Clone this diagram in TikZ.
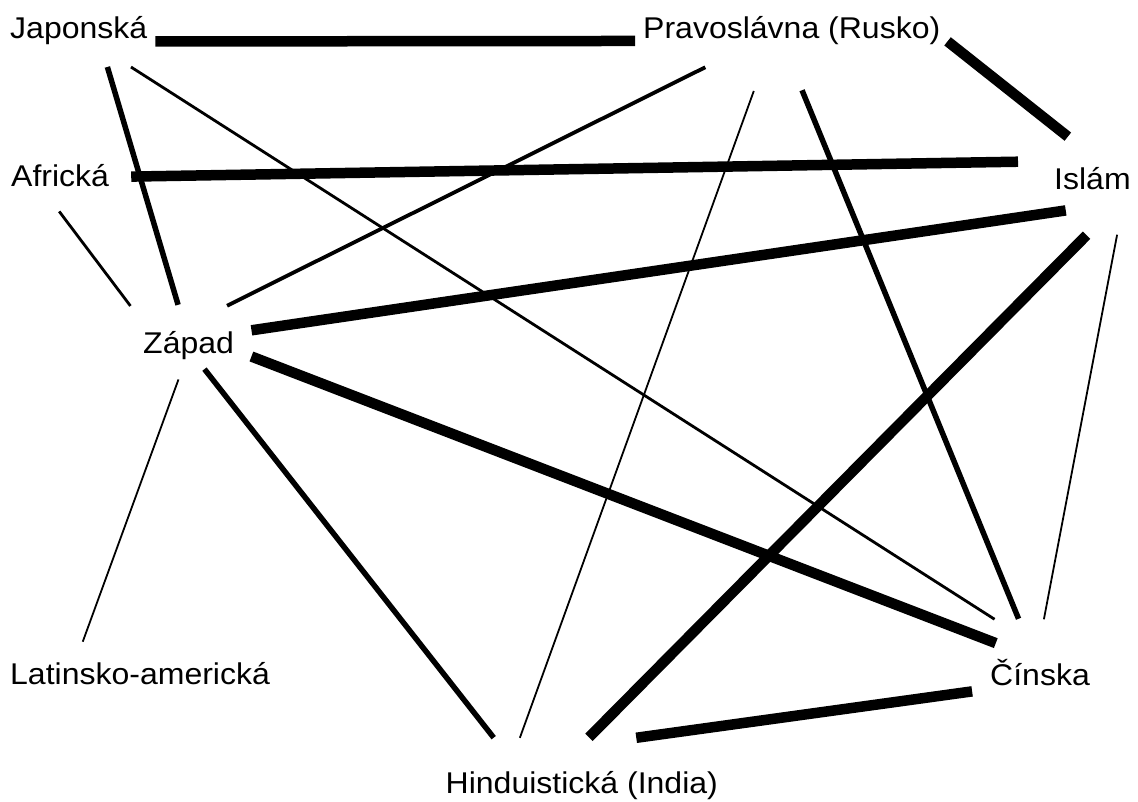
\documentclass[tikz,border=0pt]{standalone}
\usepackage{fontspec}
\setmainfont{Liberation Sans}[FakeStretch=1.067]
\usepackage{tikz}

\begin{document}
\begin{tikzpicture}[x=1pt,y=-1pt,
  strong/.style={line width=10.5pt},
  medium/.style={line width=5.5pt},
  moderate/.style={line width=3.8pt},
  weak/.style={line width=2.8pt},
  faint/.style={line width=1.8pt},
  civ/.style={anchor=base west,inner sep=0pt,font=\fontsize{30}{36}\selectfont}]
\useasboundingbox (0,0) rectangle (1138,802);
% civilizations
\node[civ] (jap) at (10,38.5) {Japonská};
\node[civ] (prav) at (643,38.5) {Pravoslávna (Rusko)};
\node[civ] (afr) at (11,187) {Africká};
\node[civ] (isl) at (1054,190) {Islám};
\node[civ] (zap) at (143,353) {Západ};
\node[civ] (lat) at (10,684) {Latinsko-americká};
\node[civ] (cin) at (990,685) {Čínska};
\node[civ] (hind) at (445.5,793) {Hinduistická (India)};
% relations
\draw[strong,shorten <=8pt,shorten >=8pt] (jap.-9) -- (prav.184.4);
\draw[strong,shorten <=9pt,shorten >=50pt] (prav.-2.6) -- (isl.38);
\draw[medium,shorten <=23pt,shorten >=27pt] (jap.-33) -- (zap.101);
\draw[weak,shorten <=41pt,shorten >=73pt] (jap.-39) -- (cin.40);
\draw[moderate,shorten <=50pt,shorten >=56pt] (prav.199.5) -- (zap.129.5);
\draw[faint,shorten <=49pt,shorten >=35pt] (prav.214.7) -- (hind.169.7);
\draw[medium,shorten <=49pt,shorten >=43pt] (prav.240.5) -- (cin.111.4);
\draw[strong,shorten <=22pt,shorten >=36pt] (afr.-1.6) -- ([yshift=6.6pt]isl.north west);
\draw[weak,shorten <=30pt,shorten >=31pt] (afr.-149) -- (zap.160.4);
\draw[strong,shorten <=27pt,shorten >=17.5pt] ([yshift=-16pt]isl.south) -- (zap.15.7);
\draw[strong,shorten <=63pt,shorten >=47pt] (isl.south east) -- (hind.151);
\draw[faint,shorten <=45pt,shorten >=40pt] (isl.-19.7) -- (cin.105.8);
\draw[strong,shorten <=18.5pt,shorten >=43pt] (zap.-6.6) -- (cin.107.3);
\draw[medium,shorten <=12.3pt,shorten >=42pt] (zap.-60.4) -- (hind.167.7);
\draw[faint,shorten <=21.3pt,shorten >=21.3pt] (zap.-101.6) -- (lat.170.2);
\draw[strong,shorten <=43pt,shorten >=55pt] (cin.208.3) -- ([yshift=25.4pt]hind.north);
\end{tikzpicture}
\end{document}
